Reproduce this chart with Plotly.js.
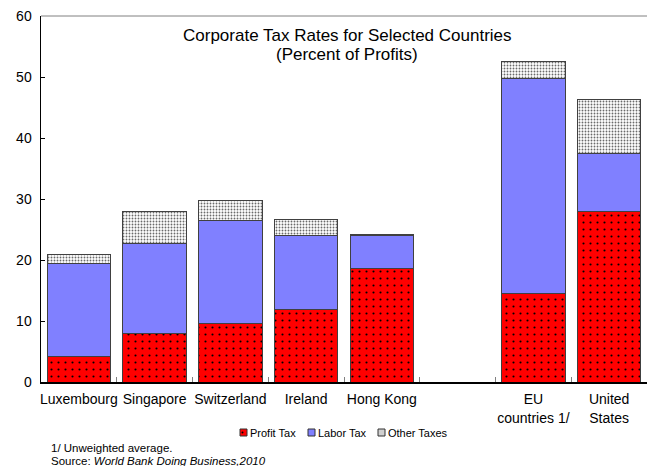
<!DOCTYPE html>
<html>
<head>
<meta charset="utf-8">
<script src="https://cdn.plot.ly/plotly-3.0.1.min.js"></script>
<style>
  html, body { margin: 0; padding: 0; background: #fff; }
  #chart { width: 647px; height: 466px; }
</style>
</head>
<body>
<div id="chart"></div>
<script>
// ---- Data (percent of profits) ----
const categories = ["Luxembourg", "Singapore", "Switzerland", "Ireland", "Hong Kong", " ", "EU<br>countries 1/", "United<br>States"];
const profitTax  = [4.1, 7.9, 9.6, 11.9, 18.6, null, 14.5, 28.0];
const laborTax   = [15.3, 14.8, 16.8, 12.1, 5.4, null, 35.2, 9.5];
const otherTaxes = [1.5, 5.2, 3.3, 2.6, 0.2, null, 2.8, 8.8];
const seriesNames = ["Profit Tax", "Labor Tax", "Other Taxes"];
const seriesColors = ["#FF0000", "#8080FF", "#D0D0D0"];
const titleLines = ["Corporate Tax Rates for Selected Countries", "(Percent of Profits)"];
const footnotes = ["1/ Unweighted average.", "Source: <i>World Bank Doing Business,2010</i>"];
const yTicks = [0, 10, 20, 30, 40, 50, 60];

const FONT = "Arial, 'Liberation Sans', sans-serif";
const outline = {color: "#404040", width: 1};

// plot area geometry (px) used only to place the hand-drawn legend keys
const PL = 41, PW = 606, PB = 382, PH = 366;
const px = v => (v - PL) / PW;
const py = v => (PB - v) / PH;

const traces = [
  {
    type: "bar", name: seriesNames[0], x: categories, y: profitTax,
    marker: {color: "#FF0000", line: outline,
      pattern: {shape: ".", bgcolor: "#FF0000", fgcolor: "#000000", size: 7, solidity: 0.07}},
    width: 0.84, hoverinfo: "y+name"
  },
  {
    type: "bar", name: seriesNames[1], x: categories, y: laborTax,
    marker: {color: "#8080FF", line: outline},
    width: 0.84, hoverinfo: "y+name"
  },
  {
    type: "bar", name: seriesNames[2], x: categories, y: otherTaxes,
    marker: {color: "#FFFFFF", line: outline,
      pattern: {shape: ".", bgcolor: "#FFFFFF", fgcolor: "#6A6A6A", size: 3, solidity: 0.3}},
    width: 0.84, hoverinfo: "y+name"
  }
];

// legend keys (small squares) and labels
const keyLeft = [240, 308, 378];
const textLeft = [248.5, 317, 386.5];
const legendShapes = seriesNames.map((n, i) => ({
  type: "rect", xref: "paper", yref: "paper",
  x0: px(keyLeft[i]), x1: px(keyLeft[i] + 7), y0: py(436), y1: py(429),
  fillcolor: seriesColors[i], line: {color: "#333333", width: 1}
}));
legendShapes.push({
  type: "circle", xref: "paper", yref: "paper",
  x0: px(keyLeft[0] + 1.5), x1: px(keyLeft[0] + 3.5), y0: py(433.5), y1: py(431.5),
  fillcolor: "#000", line: {width: 0}
});
const legendTexts = seriesNames.map((n, i) => ({
  text: n, xref: "paper", yref: "paper", x: px(textLeft[i]), y: py(432.5),
  xanchor: "left", yanchor: "middle", showarrow: false, borderpad: 0,
  font: {family: FONT, size: 11, color: "#000"}
}));

const layout = {
  width: 647, height: 466,
  margin: {l: 41, r: 0, t: 16, b: 84, pad: 0},
  paper_bgcolor: "#FFFFFF", plot_bgcolor: "#FFFFFF",
  font: {family: FONT, color: "#000000", size: 14},
  barmode: "stack",
  showlegend: false,
  xaxis: {
    type: "category", range: [-0.5, 7.5],
    showline: true, linecolor: "#000000", linewidth: 1.5,
    ticks: "inside", tickson: "boundaries", ticklen: 5, tickcolor: "#808080", tickwidth: 1,
    tickfont: {family: FONT, size: 14, color: "#000"},
    tickangle: 0, automargin: false,
    ticklabelstandoff: 4,
    showgrid: false, zeroline: false, fixedrange: true
  },
  yaxis: {
    range: [0, 60], tickvals: yTicks, ticktext: yTicks.map(String),
    showline: true, linecolor: "#000000", linewidth: 1.5,
    ticks: "inside", ticklen: 4, tickcolor: "#000000",
    tickfont: {family: FONT, size: 14, color: "#000"},
    ticklabelstandoff: 5, automargin: false,
    showgrid: false, zeroline: false, fixedrange: true
  },
  shapes: [
    {type: "line", xref: "paper", yref: "paper", x0: 0, x1: 1, y0: 1, y1: 1,
     line: {color: "#808080", width: 1}}
  ].concat(legendShapes),
  annotations: [
    {text: titleLines[0], xref: "paper", yref: "paper", x: 0.505, y: 0.948,
     xanchor: "center", yanchor: "middle", showarrow: false,
     font: {family: FONT, size: 17, color: "#000"}},
    {text: titleLines[1], xref: "paper", yref: "paper", x: 0.505, y: 0.896,
     xanchor: "center", yanchor: "middle", showarrow: false,
     font: {family: FONT, size: 17, color: "#000"}},
    {text: footnotes[0], xref: "paper", yref: "paper", x: 0.0132, y: -0.180,
     xanchor: "left", yanchor: "middle", showarrow: false,
     font: {family: FONT, size: 11.5, color: "#000"}},
    {text: footnotes[1], xref: "paper", yref: "paper", x: 0.0132, y: -0.216,
     xanchor: "left", yanchor: "middle", showarrow: false,
     font: {family: FONT, size: 11.5, color: "#000"}}
  ].concat(legendTexts)
};

Plotly.newPlot("chart", traces, layout, {displayModeBar: false, staticPlot: true});
</script>
</body>
</html>
